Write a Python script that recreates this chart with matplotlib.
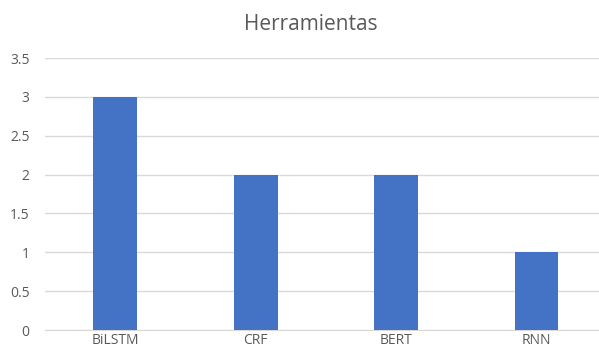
import matplotlib

matplotlib.use("Agg")
import matplotlib.pyplot as plt
from matplotlib.ticker import FuncFormatter

# datos del grafico
herramientas = ["BiLSTM", "CRF", "BERT", "RNN"]
conteo = [3, 2, 2, 1]
y_ticks = [0, 0.5, 1, 1.5, 2, 2.5, 3, 3.5]

plt.rcParams["font.family"] = ["Open Sans", "DejaVu Sans"]
texto = "#595959"

fig = plt.figure(figsize=(5.99, 3.54), dpi=100)
ax = fig.add_axes([45 / 599, 24 / 354, 1 - 45 / 599, (330 - 58) / 354])

x = range(len(herramientas))
ax.bar(x, conteo, width=0.313, color="#4472C4", zorder=3)

ax.set_xlim(-0.5, 3.445)
ax.set_ylim(0, 3.5)
ax.set_yticks(y_ticks)
ax.yaxis.set_major_formatter(FuncFormatter(lambda v, _: f"{v:g}"))
ax.set_xticks(list(x))
ax.set_xticklabels(herramientas)
ax.grid(axis="y", color="#D9D9D9", linewidth=1, zorder=0)
ax.tick_params(axis="both", length=0, labelsize=10, colors=texto)
ax.tick_params(axis="y", pad=11)
ax.tick_params(axis="x", pad=2.5)
for lado in ["top", "right", "left"]:
    ax.spines[lado].set_visible(False)
ax.spines["bottom"].set_color("#D9D9D9")

fig.text(311 / 599, 1 - 30 / 354, "Herramientas", ha="center", va="baseline",
         fontsize=15, color=texto)

fig.savefig("out.png", dpi=100)
